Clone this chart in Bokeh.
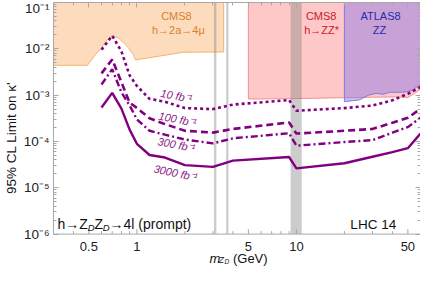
from bokeh.plotting import figure
from bokeh.models import (Range1d, FixedTicker, LogAxis, Label, BasicTickFormatter,
                          CustomLabelingPolicy, Span)
from bokeh.embed import file_html
from bokeh.resources import INLINE

# ---------------- data ----------------
mass = [0.6, 0.7, 0.8, 0.9, 1.0, 1.2, 1.5, 2.0, 3.0, 4.0, 9.0, 10.0, 20.0, 30.0, 40.0, 50.0, 60.0]
lim_10fb = [9.55e-3, 1.92e-2, 8.8e-3, 2.67e-3, 1.58e-3, 8.3e-4, 7.2e-4, 5.25e-4, 5.0e-4, 6.24e-4,
            7.85e-4, 4.6e-4, 5.25e-4, 5.96e-4, 7.76e-4, 1.07e-3, 1.5e-3]
lim_100fb = [2.95e-3, 5.89e-3, 1.9e-3, 6.9e-4, 5.3e-4, 3.16e-4, 2.37e-4, 1.7e-4, 1.55e-4, 1.86e-4,
             2.57e-4, 1.48e-4, 1.7e-4, 1.86e-4, 2.54e-4, 3.24e-4, 5.07e-4]
lim_300fb = [1.7e-3, 3.63e-3, 1.15e-3, 6.0e-4, 3.0e-4, 1.7e-4, 1.4e-4, 1.1e-4, 9.1e-5, 1.17e-4,
             1.5e-4, 8.1e-5, 9.7e-5, 1.07e-4, 1.55e-4, 2.04e-4, 3.24e-4]
lim_3000fb = [5.41e-4, 1.12e-3, 5.13e-4, 1.8e-4, 8.9e-5, 5.1e-5, 4.5e-5, 3.09e-5, 2.82e-5, 3.85e-5,
              4.62e-5, 2.63e-5, 3.39e-5, 4.68e-5, 5.89e-5, 7.16e-5, 1.48e-4]

cms_2a_mass = [0.3, 0.49, 0.54, 0.6, 0.65, 0.7, 0.77, 0.87, 0.95, 0.98, 1.95, 3.5]
cms_2a_lim = [4.41e-3, 4.41e-3, 6.95e-3, 1.04e-2, 1.56e-2, 1.92e-2, 1.69e-2, 1.13e-2, 7.52e-3,
              5.75e-3, 8.43e-3, 8.57e-3]

cms_zz_mass = [5.0, 10.0, 20.0, 30.0, 38.0, 42.0, 50.0, 55.0, 60.0]
cms_zz_lim = [8.24e-4, 8.41e-4, 8.81e-4, 9.02e-4, 9.1e-4, 9.2e-4, 8.9e-4, 1.08e-3, 1.35e-3]

atlas_zz_mass = [20.0, 24.7, 28.4, 31.8, 35.0, 38.4, 44.1, 48.4, 53.1, 57.0, 60.0]
atlas_zz_lim = [7.23e-4, 7.85e-4, 1.0e-3, 1.09e-3, 1.04e-3, 1.15e-3, 1.15e-3, 1.17e-3, 1.26e-3,
                1.5e-3, 1.75e-3]

veto_lo = [3.04, 3.63, 9.2]
veto_hi = [3.15, 3.75, 10.8]

x_lim = (0.3, 60.0)
y_lim = (1e-6, 1e-1)
y_view_bottom = 1.41e-7   # frame continues below the axis line to host tick labels and title

x_major = [0.5, 1, 5, 10, 50]
x_major_labels = ["0.5", "1", "5", "10", "50"]
x_minor = [0.3, 0.4, 0.6, 0.7, 0.8, 0.9, 2, 3, 4, 6, 7, 8, 9, 20, 30, 40, 60]
y_major = [1e-6, 1e-5, 1e-4, 1e-3, 1e-2, 1e-1]
y_major_labels = ["10\u207b\u2076", "10\u207b\u2075", "10\u207b\u2074", "10\u207b\u00b3",
                  "10\u207b\u00b2", "10\u207b\u00b9"]
y_minor = [m * d for d in [1e-6, 1e-5, 1e-4, 1e-3, 1e-2] for m in range(2, 10)]

# ---------------- styles ----------------
FONT = "Liberation Sans"
FRAME = "#a8a8a8"
TICKTXT = "#222222"
CURVE = "#800080"
BLK = "#111111"
MAJOR_TICK_FACTOR = 1.28   # ~5 px on this log scale
MINOR_TICK_FACTOR = 1.16   # ~3 px

p = figure(width=420, height=273, x_axis_type="log", y_axis_type="log",
           x_range=Range1d(*x_lim), y_range=Range1d(y_view_bottom, y_lim[1]),
           x_axis_location=None,
           output_backend="svg", toolbar_location=None,
           min_border_left=43, min_border_right=0, min_border_top=2, min_border_bottom=0)
p.outline_line_color = None
p.xgrid.visible = False
p.ygrid.visible = False
p.background_fill_color = "white"
p.border_fill_color = "white"

no_labels = CustomLabelingPolicy(code="return new Set()")


def style_axis(ax, labels, ticks):
    ax.axis_line_color = FRAME
    ax.axis_line_width = 1
    ax.major_tick_line_color = FRAME
    ax.minor_tick_line_color = FRAME
    ax.major_tick_in = 5
    ax.major_tick_out = 0
    ax.minor_tick_in = 3
    ax.minor_tick_out = 0
    ax.major_label_text_font = FONT
    ax.major_label_text_color = TICKTXT
    if labels:
        ax.major_label_text_font_size = "13.5px"
        ax.major_label_standoff = 4
    else:
        ax.major_label_overrides = {t: "" for t in ticks}
        ax.major_label_policy = no_labels
        ax.major_label_text_font_size = "0px"
        ax.major_label_standoff = 0


p.yaxis.ticker = FixedTicker(ticks=y_major, minor_ticks=y_minor)
p.yaxis.formatter = BasicTickFormatter()
p.yaxis.major_label_overrides = dict(zip(y_major, y_major_labels))
style_axis(p.yaxis[0], True, y_major)
p.yaxis.bounds = y_lim
p.yaxis.axis_label = "95% CL Limit on \u03ba'"
p.yaxis.axis_label_text_font = FONT
p.yaxis.axis_label_text_font_size = "13.5px"
p.yaxis.axis_label_text_font_style = "normal"
p.yaxis.axis_label_text_color = BLK
p.yaxis.axis_label_standoff = 2

top = LogAxis(ticker=FixedTicker(ticks=x_major, minor_ticks=x_minor), formatter=BasicTickFormatter())
style_axis(top, False, x_major)
p.add_layout(top, "above")
right = LogAxis(ticker=FixedTicker(ticks=y_major, minor_ticks=y_minor), formatter=BasicTickFormatter(),
                bounds=y_lim)
style_axis(right, False, y_major)
p.add_layout(right, "right")

# ---------------- excluded regions ----------------
p.patch(cms_2a_mass + [cms_2a_mass[-1], cms_2a_mass[0]], cms_2a_lim + [y_lim[1], y_lim[1]],
        fill_color="#fddcbd", fill_alpha=1.0, line_color="#f5b26b", line_width=1)
p.patch([cms_zz_mass[0]] + cms_zz_mass + [cms_zz_mass[-1]],
        [y_lim[1]] + cms_zz_lim + [y_lim[1]],
        fill_color="#ffc8c8", fill_alpha=1.0, line_color="#f09090", line_width=1)
p.patch([atlas_zz_mass[0]] + atlas_zz_mass + [atlas_zz_mass[-1]],
        [y_lim[1]] + atlas_zz_lim + [y_lim[1]],
        fill_color="#917ce4", fill_alpha=0.5, line_color="#6a6ae6", line_alpha=0.8, line_width=1)

# resonance vetoes
p.quad(left=veto_lo, right=veto_hi, bottom=y_lim[0], top=y_lim[1],
       fill_color="#808080", fill_alpha=0.4, line_color=None)

# ---------------- bottom frame axis (line + inward ticks at y = 1e-6) ----------------
p.add_layout(Span(location=y_lim[0], dimension="width", line_color=FRAME, line_width=1))
p.segment(x0=x_major, x1=x_major, y0=[y_lim[0]] * len(x_major),
          y1=[y_lim[0] * MAJOR_TICK_FACTOR] * len(x_major), line_color=FRAME, line_width=1)
p.segment(x0=x_minor, x1=x_minor, y0=[y_lim[0]] * len(x_minor),
          y1=[y_lim[0] * MINOR_TICK_FACTOR] * len(x_minor), line_color=FRAME, line_width=1)

# ---------------- projections ----------------
p.line(mass, lim_10fb, line_color=CURVE, line_width=2.6, line_dash="3 3")
p.line(mass, lim_100fb, line_color=CURVE, line_width=2.6, line_dash="7 4")
p.line(mass, lim_300fb, line_color=CURVE, line_width=2.4, line_dash="7 3 2 3")
p.line(mass, lim_3000fb, line_color=CURVE, line_width=2.4)


def lab(text, x, y, size, color, style="normal", align="center", baseline="middle",
        dx=0, dy=0, angle=0.0):
    p.add_layout(Label(x=x, y=y, text=text, text_font=FONT, text_font_size=size,
                       text_color=color, text_font_style=style, text_align=align,
                       text_baseline=baseline, x_offset=dx, y_offset=dy, angle=angle))


# x tick labels
for t, s in zip(x_major, x_major_labels):
    lab(s, t, y_lim[0], "13px", TICKTXT, baseline="alphabetic", dy=-12)

# region labels
lab("CMS8", 1.77, 0.0515, "11px", "#d8812c")
lab("h\u21922a\u21924\u03bc", 1.82, 0.0261, "11px", "#d8812c")
lab("CMS8", 14.3, 0.0515, "11px", "#c8202e")
lab("h\u2192ZZ*", 14.4, 0.0261, "11px", "#c8202e")
lab("ATLAS8", 33.7, 0.0515, "11px", "#2a2aa8")
lab("ZZ", 33.2, 0.0261, "11px", "#2a2aa8")

# curve labels
CL = "#8b1a8b"
lab("10 fb\u207b\u00b9", 1.77, 9.66e-4, "11px", CL, "italic", angle=-0.19)
lab("100 fb\u207b\u00b9", 1.80, 3.02e-4, "11px", CL, "italic", angle=-0.19)
lab("300 fb\u207b\u00b9", 1.77, 8.57e-5, "11px", CL, "italic", angle=-0.19)
lab("3000 fb\u207b\u00b9", 1.75, 2.1e-5, "11px", CL, "italic", angle=-0.21)

# process label (bottom left)
px0 = 0.318
pieces = [("h", 0, 0, "14px", "normal"), ("\u2192", 7.8, 0, "14px", "normal"),
          ("Z", 21.8, 0, "14px", "normal"), ("D", 30.2, -3, "9.5px", "italic"),
          ("Z", 36.9, 0, "14px", "normal"), ("D", 45.3, -3, "9.5px", "italic"),
          ("\u2192", 52.0, 0, "14px", "normal"), ("4l (prompt)", 66.0, 0, "14px", "normal")]
for t, dx, dy, fs, st in pieces:
    lab(t, px0, y_lim[0], fs, BLK, st, align="left", baseline="alphabetic", dx=dx, dy=10 + dy)

lab("LHC 14", 21.8, y_lim[0], "13.5px", BLK, align="left", baseline="alphabetic", dy=10)

# x axis title m_{Z_D} (GeV), below the tick labels
xl0 = 2.85
xl_pieces = [("m", 0, 0, "13px", "italic"), ("Z", 9.0, -2.0, "9px", "italic"),
             ("D", 15.0, -3.5, "6.5px", "italic"), ("(GeV)", 23.5, 0, "13px", "normal")]
for t, dx, dy, fs, st in xl_pieces:
    lab(t, xl0, y_lim[0], fs, BLK, st, align="left", baseline="alphabetic", dx=dx, dy=-24 + dy)

open("out.html", "w").write(file_html(p, INLINE))
